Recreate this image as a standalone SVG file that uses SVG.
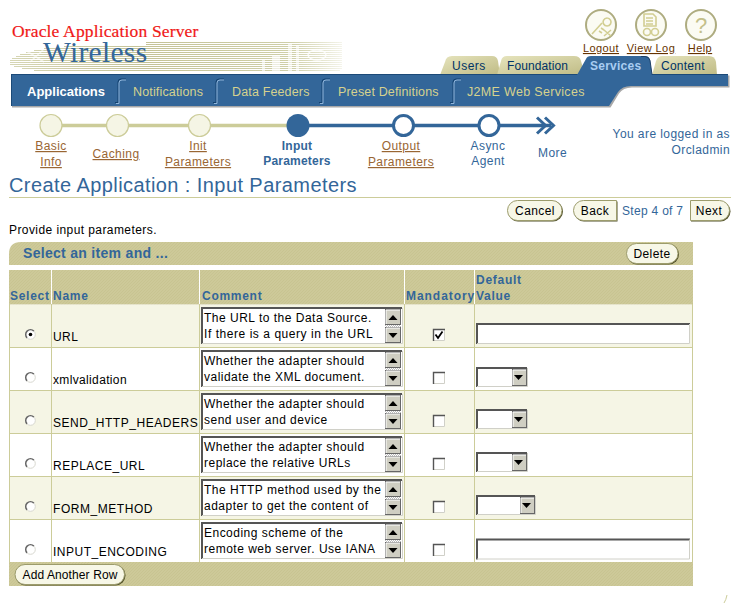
<svg xmlns="http://www.w3.org/2000/svg" width="731" height="606" viewBox="0 0 731 606">
<style>
text{font-family:"Liberation Sans",Arial,sans-serif;font-size:12px;letter-spacing:.42px}
.k{fill:#000}
.b{fill:#336699}
.lk{fill:#996633;text-decoration:underline}
.lu{fill:#663300;text-decoration:underline;font-size:11px}
.m{text-anchor:middle}
.nav{fill:#d6d28e;font-size:12.5px;letter-spacing:.15px}
.th{fill:#336699;font-weight:bold;font-size:12px;letter-spacing:.72px}
.tab{fill:#003366;font-size:12px;letter-spacing:.5px}
.gl{fill:none;stroke:#cccc99;stroke-width:1}
.c{fill:#f5f5e5;stroke:#cccc99;stroke-width:1.2}
.o{fill:#fff;stroke:#336699;stroke-width:3}
.btn{fill:#f7f7e7;stroke:#9c9c6c;stroke-width:1}
.sh{fill:#50502a}
.lo{stroke:url(#fade);stroke-width:1;fill:none}
.arr{fill:#000}
.sb{fill:#cfcec2;stroke:#666;stroke-width:1}
.dk{fill:none;stroke:#555;stroke-width:2}
.lt{fill:none;stroke:#d0d0c8;stroke-width:1}
.sep{fill:none;stroke:#8fb4da;stroke-width:1}
.sepd{fill:none;stroke:#12406e;stroke-width:1}
.ic{fill:#fbfbf3;stroke:#aeac80;stroke-width:2}
.ig{fill:none;stroke:#d2ce92;stroke-width:1.6}
</style>
<defs>
<pattern id="h" width="3" height="3" patternUnits="userSpaceOnUse"><rect width="3" height="3" fill="#cdc999"/><path d="M0 3L3 0" stroke="#c6c28e" stroke-width=".7"/></pattern>
<pattern id="d" width="2" height="2" patternUnits="userSpaceOnUse"><rect width="2" height="2" fill="#fff"/><rect width="1" height="1" fill="#bbb"/><rect x="1" y="1" width="1" height="1" fill="#bbb"/></pattern>
<linearGradient id="fade" gradientUnits="userSpaceOnUse" x1="10" y1="0" x2="342" y2="0"><stop offset="0" stop-color="#d6d6b4"/><stop offset=".4" stop-color="#c4c296"/><stop offset=".85" stop-color="#cfcfa8"/><stop offset="1" stop-color="#f4f4ea"/></linearGradient>
<linearGradient id="tabg" x1="0" y1="0" x2="1" y2="1"><stop offset="0" stop-color="#e6e4bd"/><stop offset="1" stop-color="#bfbb85"/></linearGradient>
<g id="tb">
<rect x="201" y="307" width="201" height="37" fill="#fff"/><path class="dk" d="M202 344V308H402"/><path class="lt" d="M202 343.500H402.500V308"/>
<rect x="385" y="324" width="16" height="4" fill="url(#d)"/>
<rect class="sb" x="385.500" y="309.500" width="15" height="15"/><rect class="sb" x="385.500" y="327.500" width="15" height="15"/>
<path d="M386 324V310H400" fill="none" stroke="#fff"/><path d="M386 342V328H400" fill="none" stroke="#fff"/>
<path class="arr" d="M388.500 320l4.500-5 4.500 5z"/><path class="arr" d="M388.500 333h9l-4.500 5z"/>
</g>
<g id="cb"><rect x="433" y="329" width="12" height="12" fill="#fff"/><path class="lt" d="M433.500 340.500H444.500V330"/><path d="M433.500 341V329.500H445" fill="none" stroke="#555" stroke-width="1.400"/></g>
<g id="sel"><rect x="476" y="0" width="51" height="20" fill="#fff"/><path class="dk" d="M477 20V1H527"/><path class="lt" d="M477 19.500H527.500V1"/><rect class="sb" x="512.500" y="2.500" width="14" height="16"/><path d="M513 18V3H526" fill="none" stroke="#fff"/><path class="arr" d="M514 8h9l-4.500 5z"/></g>
<g id="sel2"><rect x="476" y="0" width="59" height="20" fill="#fff"/><path class="dk" d="M477 20V1H535"/><path class="lt" d="M477 19.500H535.500V1"/><rect class="sb" x="520.500" y="2.500" width="14" height="16"/><path d="M521 18V3H534" fill="none" stroke="#fff"/><path class="arr" d="M522 8h9l-4.500 5z"/></g>
<g id="inp"><rect x="476" y="0" width="214" height="21" fill="#fff"/><path class="dk" d="M477 21V1H690"/><path class="lt" d="M477 20.500H689.500V1"/></g>
<g id="rd"><circle cx="30.500" cy="0" r="4.800" fill="#fff"/><path d="M33.900-3.400A4.800 4.800 0 0 0 27.100 3.400" fill="none" stroke="#666" stroke-width="1.500"/><path d="M27.100 3.400A4.800 4.800 0 0 0 33.900-3.400" fill="none" stroke="#d8d8d0" stroke-width="1"/></g>
</defs>

<g id="logo">
<path class="lo" d="M146 42.500H342M146 44.500H342M64 46.500H342M44 48.500H342M34 50.500H342M26 52.500H342M20 54.500H342M16 56.500H342M12 58.500H342M10 60.500H342M10 62.500H342M10 64.500H342M14 66.500H342M22 68.500H342M34 70.500H340"/>
<g fill="#fff" opacity=".65"><rect x="262" y="60" width="3" height="11"/><rect x="272" y="56" width="8" height="15"/><rect x="288" y="43" width="4" height="28"/><rect x="296" y="46" width="3" height="25"/></g>
<ellipse cx="317" cy="55" rx="9" ry="5" fill="none" stroke="#fff" stroke-width="1.500" opacity=".8"/>
<path d="M22 48l22 14M30 62l14-13" stroke="#fff" stroke-width="1.500" opacity=".6" fill="none"/>
<text x="12" y="37" style="font-family:'Liberation Serif',serif;font-size:17.500px;letter-spacing:.15px" fill="#f01818" stroke="#f01818" stroke-width=".2">Oracle Application Server</text>
<text x="43" y="62" style="font-family:'Liberation Serif',serif;font-size:29.500px;letter-spacing:.3px" fill="#336699">Wireless</text>
</g>

<g id="icons">
<circle class="ic" cx="601" cy="25" r="15"/><path class="ig" d="M592 34l10-11m-3 8l3 2m-1-5l3 2M607 18a4 4 0 1 0 .1 0M604 30l7 6m0-6l-7 6"/>
<circle class="ic" cx="651" cy="25" r="15"/><path class="ig" d="M644 14h9l3 3v9h-12zM646 18h7M646 21h7M646 24h7"/><circle class="ig" cx="647" cy="32" r="3.500"/><circle class="ig" cx="655" cy="32" r="3.500"/>
<circle class="ic" cx="701" cy="25" r="15"/><text class="m" x="701" y="33" style="font-size:22px;letter-spacing:0" fill="#c4c08a">?</text>
<text class="lu m" x="601" y="52">Logout</text><text class="lu m" x="651" y="52">View Log</text><text class="lu m" x="700" y="52">Help</text>
</g>

<g id="tabs">
<path d="M440 75l5-13q1-6 7-6h40q5 0 6 5l2 14z" fill="url(#tabg)"/>
<path d="M497 75l4-14q1-5 6-5h67q6 0 7 5l4 14z" fill="url(#tabg)"/>
<path d="M652 75h65l-1-13q-1-6-7-6H662q-4 0-6 5z" fill="url(#tabg)"/>
<text class="tab" x="452" y="70">Users</text><text class="tab" x="507" y="70" style="letter-spacing:.1px">Foundation</text><text class="tab" x="661" y="70" style="letter-spacing:.25px">Content</text>
</g>

<g id="navbar">
<path d="M12 75.500H729.500V87.500H632Q623 87.500 619 93.500L610.500 107.500H12z" fill="#a8a8a8"/>
<path d="M11 74H728V86H631Q622 86 618 92L609 106H11z" fill="#336699"/>
<path d="M11 74.500H728" stroke="#1c4a78" fill="none"/>
<path d="M11.500 74V106" stroke="#1c4a78" fill="none"/>
<path class="sepd" d="M115 102.500h3V82q0-3 3-3h5M213 102.500h3V82q0-3 3-3h5M319 102.500h3V82q0-3 3-3h5M450 102.500h3V82q0-3 3-3h5"/>
<path class="sep" d="M116 103.500h3V83q0-3 3-3h4M214 103.500h3V83q0-3 3-3h4M320 103.500h3V83q0-3 3-3h4M451 103.500h3V83q0-3 3-3h4"/>
<text x="27" y="96" style="font-size:13px;font-weight:bold;letter-spacing:0" fill="#fff">Applications</text>
<text class="nav" x="133" y="96">Notifications</text>
<text class="nav" x="232" y="96">Data Feeders</text>
<text class="nav" x="338" y="96">Preset Definitions</text>
<text class="nav" x="467" y="96" style="letter-spacing:.32px">J2ME Web Services</text>
</g>
<g id="tab-services">
<path d="M577 75l9-16q1-3 5-3h54q4 0 5 4l2 15z" fill="#336699"/>
<path d="M641 56.500h4q4 0 5 4l2 14" fill="none" stroke="#1c3f66"/>
<text x="590" y="70" style="font-size:12px;font-weight:bold;letter-spacing:.25px" fill="#a9cdf2">Services</text>
</g>

<g id="connectors">
<path d="M51 125.500H298" stroke="#cccc99" stroke-width="3.500" fill="none"/>
<path d="M298 125.500H551" stroke="#336699" stroke-width="3.500" fill="none"/>
<path d="M537 117.500l8.500 8-8.500 8M545 117.500l8.500 8-8.500 8" stroke="#336699" stroke-width="3" fill="none"/>
</g>

<g id="step-basic"><circle class="c" cx="51" cy="125.500" r="11"/><text class="lk m" x="51" y="150">Basic</text><text class="lk m" x="51" y="166">Info</text></g>
<g id="step-caching"><circle class="c" cx="117.500" cy="125.500" r="11"/><text class="lk m" x="116" y="158">Caching</text></g>
<g id="step-init"><circle class="c" cx="199.500" cy="125.500" r="11"/><text class="lk m" x="198" y="150">Init</text><text class="lk m" x="198" y="166">Parameters</text></g>
<g id="step-input"><circle cx="298" cy="125.500" r="11.500" fill="#336699"/><text class="m b" x="297" y="150" font-weight="bold" style="letter-spacing:.2px">Input</text><text class="m b" x="297" y="165" font-weight="bold" style="letter-spacing:.2px">Parameters</text></g>
<g id="step-output"><circle class="o" cx="403.500" cy="125.500" r="10"/><text class="lk m" x="401" y="150">Output</text><text class="lk m" x="401" y="166">Parameters</text></g>
<g id="step-async"><circle class="o" cx="489" cy="125.500" r="10"/><text class="m b" x="488" y="150">Async</text><text class="m b" x="488" y="165">Agent</text></g>
<g id="step-more"><text class="m b" x="552.500" y="157">More</text></g>

<g id="login"><text class="b" x="730" y="138" text-anchor="end">You are logged in as</text><text class="b" x="730" y="154" text-anchor="end">Orcladmin</text></g>

<text x="9" y="192" style="font-size:20px;letter-spacing:.42px" class="b">Create Application : Input Parameters</text>
<path d="M9 197.500H731" stroke="#cccc99" fill="none"/>

<g id="buttons">
<rect class="sh" x="508" y="201" width="55" height="20.500" rx="10"/><rect class="btn" x="507.500" y="200.500" width="54.500" height="20" rx="10"/><text class="m k" x="535" y="215">Cancel</text>
<path class="sh" d="M617.500 201.500H584a10 10 0 0 0 0 20H617.500z"/><path class="btn" d="M616.500 200.500H583.500a10 10 0 0 0 0 20H616.500z"/><text class="m k" x="595" y="215">Back</text>
<text class="b" x="622" y="215" style="letter-spacing:.3px">Step 4 of 7</text>
<path class="sh" d="M691 201.500H720.500a10 10 0 0 1 0 20H691z"/><path class="btn" d="M690.500 200.500H719.500a10 10 0 0 1 0 20H690.500z"/><text class="m k" x="709" y="215">Next</text>
</g>
<text x="9" y="234" class="k">Provide input parameters.</text>

<g id="header-band">
<path d="M9 265V254Q9 242 21 242H693V265z" fill="url(#h)"/>
<text x="23" y="258" style="font-size:14px;font-weight:bold;letter-spacing:.3px" class="b">Select an item and ...</text>
<rect class="sh" x="627" y="244" width="52" height="20.500" rx="10"/><rect class="btn" x="626.500" y="243.500" width="51.500" height="20" rx="10"/><text class="m k" x="652" y="258">Delete</text>
</g>

<g id="table">
<rect x="9" y="270" width="684" height="34.500" fill="url(#h)"/>
<rect x="9" y="305" width="684" height="43" fill="#f5f5e5"/>
<rect x="9" y="391" width="684" height="43" fill="#f5f5e5"/>
<rect x="9" y="477" width="684" height="43" fill="#f5f5e5"/>
<rect x="9" y="562" width="684" height="24" fill="url(#h)"/>
<path d="M51.500 270V304M199.500 270V304M404.500 270V304M474.500 270V304" stroke="#fff" fill="none"/>
<path class="gl" d="M9 347.500H693M9 390.500H693M9 433.500H693M9 476.500H693M9 519.500H693M51.500 304V562M199.500 304V562M404.500 304V562M474.500 304V562M692.500 304V562M9.500 304V562"/>
<text class="th" x="10" y="300">Select</text><text class="th" x="53" y="300">Name</text><text class="th" x="202" y="300">Comment</text><text class="th" x="406" y="300" style="letter-spacing:.95px">Mandatory</text><text class="th" x="476" y="284">Default</text><text class="th" x="476" y="300">Value</text>
</g>

<g id="row-url">
<use href="#rd" y="334.500"/><circle cx="30.500" cy="334.500" r="1.800" fill="#000"/>
<text x="53" y="341" class="k">URL</text>
<use href="#tb"/>
<text x="204" y="322" class="k" style="letter-spacing:.5px">The URL to the Data Source.</text><text x="204" y="338" class="k" style="letter-spacing:.55px">If there is a query in the URL</text>
<use href="#cb"/><path d="M435.500 334.500l2.500 3.500 4.500-6.500" fill="none" stroke="#000" stroke-width="1.800"/>
<use href="#inp" y="323"/>
</g>
<g id="row-xmlvalidation">
<use href="#rd" y="377.500"/>
<text x="53" y="384" class="k" style="letter-spacing:.35px">xmlvalidation</text>
<use href="#tb" y="43"/>
<text x="204" y="365" class="k" style="letter-spacing:.48px">Whether the adapter should</text><text x="204" y="381" class="k" style="letter-spacing:.48px">validate the XML document.</text>
<use href="#cb" y="43"/>
<use href="#sel" y="367"/>
</g>
<g id="row-send-http-headers">
<use href="#rd" y="420.500"/>
<text x="53" y="427" class="k" style="letter-spacing:.55px">SEND_HTTP_HEADERS</text>
<use href="#tb" y="86"/>
<text x="204" y="408" class="k" style="letter-spacing:.48px">Whether the adapter should</text><text x="204" y="424" class="k" style="letter-spacing:.48px">send user and device</text>
<use href="#cb" y="86"/>
<use href="#sel" y="409"/>
</g>
<g id="row-replace-url">
<use href="#rd" y="463.500"/>
<text x="53" y="470" class="k" style="letter-spacing:.5px">REPLACE_URL</text>
<use href="#tb" y="129"/>
<text x="204" y="451" class="k" style="letter-spacing:.48px">Whether the adapter should</text><text x="204" y="467" class="k" style="letter-spacing:.48px">replace the relative URLs</text>
<use href="#cb" y="129"/>
<use href="#sel" y="452"/>
</g>
<g id="row-form-method">
<use href="#rd" y="506.500"/>
<text x="53" y="513" class="k" style="letter-spacing:.55px">FORM_METHOD</text>
<use href="#tb" y="172"/>
<text x="204" y="494" class="k" style="letter-spacing:.5px">The HTTP method used by the</text><text x="204" y="510" class="k" style="letter-spacing:.5px">adapter to get the content of</text>
<use href="#cb" y="172"/>
<use href="#sel2" y="495"/>
</g>
<g id="row-input-encoding">
<use href="#rd" y="549.500"/>
<text x="53" y="556" class="k" style="letter-spacing:.5px">INPUT_ENCODING</text>
<use href="#tb" y="215"/>
<text x="204" y="537" class="k" style="letter-spacing:.48px">Encoding scheme of the</text><text x="204" y="553" class="k" style="letter-spacing:.5px">remote web server. Use IANA</text>
<use href="#cb" y="215"/>
<use href="#inp" y="538.500"/>
</g>
<g id="add-row"><rect class="sh" x="15.500" y="565" width="110" height="20.500" rx="10"/><rect class="btn" x="15" y="564.500" width="109.500" height="20" rx="10"/><text class="m k" x="70" y="579" style="letter-spacing:.1px">Add Another Row</text></g>
<path d="M727 595q-1 5-3 8" stroke="#cccc99" fill="none"/>
</svg>
